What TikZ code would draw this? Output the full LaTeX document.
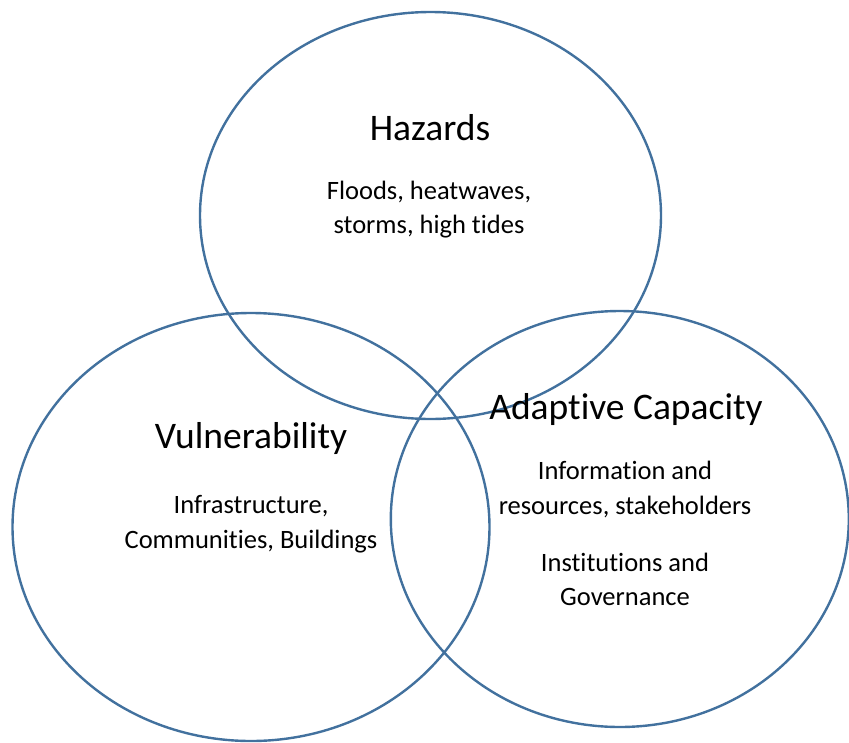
\documentclass[tikz,border=0pt]{standalone}
\usepackage{fontspec}
\setmainfont[Ligatures=NoCommon]{Carlito}
\definecolor{ringblue}{RGB}{66,113,158}
\begin{document}
\begin{tikzpicture}[x=1pt,y=-1pt,
  ring/.style={draw=ringblue,line width=2.4pt},
  heading/.style={anchor=base,inner sep=0pt,font=\fontsize{37.5}{42}\selectfont},
  detail/.style={anchor=base,inner sep=0pt,font=\fontsize{26.5}{32}\selectfont}]
\useasboundingbox (0,0) rectangle (849,742);
% the three overlapping rings
\draw[ring] (430.5,215.5) ellipse [x radius=230.5, y radius=203.5];
\draw[ring] (251,527) ellipse [x radius=238.5, y radius=214];
\draw[ring] (619.8,519) ellipse [x radius=229, y radius=208];
% hazards
\node[heading] (hz) at (430,140) {Hazards};
\node[detail] (hz1) at (429,199) {Floods, heatwaves,};
\node[detail] (hz2) at (429,233) {storms, high tides};
% vulnerability
\node[heading] (vu) at (251,448) {Vulnerability};
\node[detail] (vu1) at (251,513) {Infrastructure,};
\node[detail] (vu2) at (251,548) {Communities, Buildings};
% adaptive capacity
\node[heading] (ac) at (626,419) {Adaptive Capacity};
\node[detail] (ac1) at (625,479) {Information and};
\node[detail] (ac2) at (625,514) {resources, stakeholders};
\node[detail] (ac3) at (625,571) {Institutions and};
\node[detail] (ac4) at (625,605) {Governance};
\end{tikzpicture}
\end{document}
